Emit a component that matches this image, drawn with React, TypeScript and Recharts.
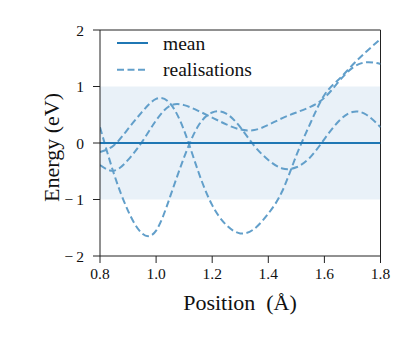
import React from "react";
import {
  ComposedChart,
  Line,
  XAxis,
  YAxis,
  ReferenceArea,
  ReferenceLine,
  Legend,
  Label,
} from "recharts";

const positions = [0.8, 0.85, 0.9, 0.95, 1.0, 1.05, 1.1, 1.15, 1.2, 1.25, 1.3, 1.35, 1.4, 1.45, 1.5, 1.55, 1.6, 1.65, 1.7, 1.75, 1.8];
const realisationA = [0.28, -0.55, -1.2, -1.6, -1.55, -0.95, -0.25, 0.3, 0.54, 0.52, 0.28, -0.05, -0.3, -0.45, -0.43, -0.25, 0.07, 0.38, 0.55, 0.5, 0.28];
const realisationB = [-0.16, -0.04, 0.25, 0.55, 0.78, 0.7, 0.22, -0.5, -1.1, -1.45, -1.6, -1.52, -1.25, -0.85, -0.22, 0.35, 0.85, 1.12, 1.38, 1.62, 1.84];
const realisationC = [-0.39, -0.49, -0.3, 0.02, 0.4, 0.66, 0.67, 0.57, 0.45, 0.33, 0.24, 0.23, 0.32, 0.44, 0.54, 0.64, 0.8, 1.08, 1.33, 1.43, 1.4];
const meanValues = positions.map(() => 0);
const xTicks = [0.8, 1.0, 1.2, 1.4, 1.6, 1.8];
const yTicks = [-2, -1, 0, 1, 2];

const data = positions.map((x, i) => ({
  x,
  a: realisationA[i],
  b: realisationB[i],
  c: realisationC[i],
  mean: meanValues[i],
}));

const FONT = "Liberation Serif, Times New Roman, serif";
const MEAN_COLOR = "#1f77b4";
const REAL_COLOR = "#629fca";
const AXIS = "#222";

const LegendBox = () => (
  <svg width={200} height={60} style={{ display: "block" }}>
    <line x1={17} x2={48} y1={13} y2={13} stroke={MEAN_COLOR} strokeWidth={2} />
    <text x={63} y={19.5} style={{ fontFamily: FONT }} fontSize={19.5} fill="#111">mean</text>
    <line x1={17} x2={48} y1={39.7} y2={39.7} stroke={REAL_COLOR} strokeWidth={2} strokeDasharray="7 3.5" />
    <text x={63} y={46} style={{ fontFamily: FONT }} fontSize={19.5} fill="#111">realisations</text>
  </svg>
);

const XTick = (props: any) => {
  const { x, y, payload } = props;
  return (
    <text x={x} y={y + 11} textAnchor="middle" style={{ fontFamily: FONT }} fontSize={15.5} fill="#111">
      {Number(payload.value).toFixed(1)}
    </text>
  );
};

const YTick = (props: any) => {
  const { x, y, payload } = props;
  const v = Number(payload.value);
  const label = v < 0 ? `\u2212\u2009${-v}` : `${v}`;
  return (
    <text x={x} y={y + 5.5} textAnchor="end" style={{ fontFamily: FONT }} fontSize={15.5} fill="#111">
      {label}
    </text>
  );
};

export default function App() {
  return (
    <div style={{ fontFamily: FONT }}>
      <ComposedChart
        width={400}
        height={320}
        data={data}
        margin={{ top: 22, right: 27.5, left: 0, bottom: 42 }}
      >
        <ReferenceArea y1={-1} y2={1} x1={0.8} x2={1.8} fill="#e9f1f8" fillOpacity={1} stroke="none" />
        <XAxis
          dataKey="x"
          type="number"
          domain={[0.8, 1.8]}
          ticks={xTicks}
          height={30}
          allowDataOverflow
          stroke={AXIS}
          tickSize={7}
          tickMargin={5}
          tick={<XTick />}
        >
          <Label
            content={() => (
              <text x={232} y={302} textAnchor="middle" style={{ fontFamily: FONT }} fontSize={22} fill="#111">
                {"Position\u00a0\u00a0(Å)"}
              </text>
            )}
          />
        </XAxis>
        <YAxis
          type="number"
          domain={[-2, 2]}
          ticks={yTicks}
          width={92}
          allowDataOverflow
          stroke={AXIS}
          tickSize={7}
          tickMargin={9}
          tick={<YTick />}
        >
          <Label
            content={() => (
              <text
                x={43}
                y={139.5}
                textAnchor="middle"
                dominantBaseline="central"
                transform="rotate(-90 43 139.5)"
                style={{ fontFamily: FONT }}
                fontSize={22}
                fill="#111"
              >
                Energy (eV)
              </text>
            )}
          />
        </YAxis>
        <ReferenceLine y={2} stroke={AXIS} ifOverflow="visible" />
        <ReferenceLine x={1.8} stroke={AXIS} ifOverflow="visible" />
        <Line dataKey="a" type="natural" stroke={REAL_COLOR} strokeWidth={2} strokeDasharray="7 3.5" dot={false} isAnimationActive={false} />
        <Line dataKey="b" type="natural" stroke={REAL_COLOR} strokeWidth={2} strokeDasharray="7 3.5" dot={false} isAnimationActive={false} />
        <Line dataKey="c" type="natural" stroke={REAL_COLOR} strokeWidth={2} strokeDasharray="7 3.5" dot={false} isAnimationActive={false} />
        <Line dataKey="mean" type="linear" stroke={MEAN_COLOR} strokeWidth={2} dot={false} isAnimationActive={false} />
        <Legend
          layout="horizontal"
          verticalAlign="middle"
          align="center"
          content={() => <LegendBox />}
          wrapperStyle={{ position: "absolute", left: 92, top: 22, width: 200, height: 60 }}
        />
      </ComposedChart>
    </div>
  );
}
